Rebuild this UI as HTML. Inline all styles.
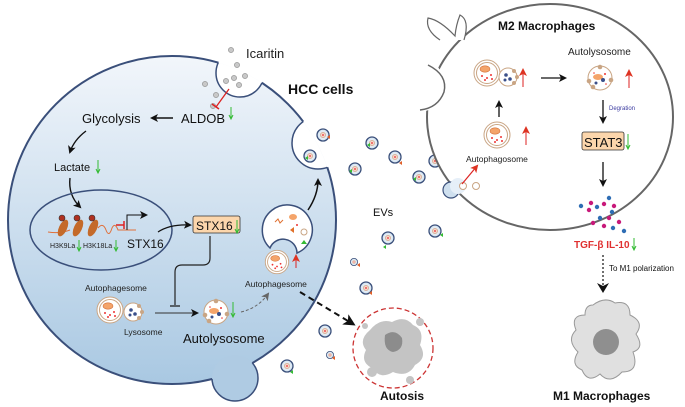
<!DOCTYPE html>
<html><head><meta charset="utf-8"><style>
html,body{margin:0;padding:0;background:#fff;}
svg{display:block;font-family:"Liberation Sans",sans-serif;}
</style></head><body>
<svg width="685" height="407" viewBox="0 0 685 407" xmlns="http://www.w3.org/2000/svg">
<defs>
<linearGradient id="cg" x1="0" y1="0" x2="0" y2="1">
<stop offset="0" stop-color="#f2f6fb"/><stop offset="1" stop-color="#a9c8e2"/></linearGradient>
<radialGradient id="evg"><stop offset="0" stop-color="#ffffff"/><stop offset="1" stop-color="#cfe0ef"/></radialGradient>
<mask id="outCell"><rect width="685" height="407" fill="#fff"/><circle cx="172" cy="220" r="164" fill="#000"/></mask>
<mask id="inCell"><circle cx="172" cy="220" r="164" fill="#fff"/></mask>
<mask id="noBuds"><rect width="685" height="407" fill="#fff"/><circle cx="240" cy="73" r="24" fill="#000"/><circle cx="318" cy="143" r="26" fill="#000"/><circle cx="235" cy="378" r="23" fill="#000"/></mask>
<marker id="ah" markerWidth="8" markerHeight="8" refX="6" refY="4" orient="auto" markerUnits="userSpaceOnUse"><path d="M0,0 L8,4 L0,8 L2,4z" fill="#111"/></marker>
<marker id="ahr" markerWidth="8" markerHeight="8" refX="6" refY="4" orient="auto" markerUnits="userSpaceOnUse"><path d="M0,0 L8,4 L0,8 L2,4z" fill="#d32"/></marker>
<marker id="ahg" markerWidth="8" markerHeight="8" refX="6" refY="4" orient="auto" markerUnits="userSpaceOnUse"><path d="M0,0 L8,4 L0,8 L2,4z" fill="#666"/></marker>
<marker id="ahb" markerWidth="12" markerHeight="12" refX="9" refY="6" orient="auto" markerUnits="userSpaceOnUse"><path d="M0,0 L12,6 L0,12 L3,6z" fill="#111"/></marker>
<g id="ev"><circle r="6" fill="url(#evg)" stroke="#3a4f7a" stroke-width="1.3"/><circle r="2.6" fill="#f5d6c8" stroke="#c97" stroke-width="0.6"/><circle r="1" fill="#e55"/></g>
<g id="aph"><circle r="13" fill="#fff" stroke="#c9a584" stroke-width="1"/><circle r="10.5" fill="none" stroke="#c9a584" stroke-width="1"/><ellipse cx="-2" cy="-4" rx="5" ry="3.2" fill="#f4a46a" stroke="#d2703a" stroke-width="0.6"/><circle cx="-5" cy="3" r="1" fill="#e33"/><circle cx="0" cy="5" r="1" fill="#e33"/><circle cx="4" cy="2" r="1" fill="#e33"/><circle cx="5" cy="6" r="1" fill="#e33"/><circle cx="-2" cy="7" r="1" fill="#e33"/></g>
<g id="lys"><circle r="9" fill="#fff" stroke="#c9a584" stroke-width="1"/><circle cx="-2" cy="-2" r="1.8" fill="#3a4f8a"/><circle cx="2" cy="2" r="1.8" fill="#3a4f8a"/><circle cx="-3" cy="3" r="1.5" fill="#3a4f8a"/><circle cx="6" cy="-6" r="2" fill="#c9a584"/><circle cx="6" cy="6" r="2" fill="#c9a584"/><circle cx="9" cy="0" r="2" fill="#c9a584"/></g>
<g id="al"><circle r="12" fill="#fff" stroke="#c9a584" stroke-width="1"/><ellipse cx="-2" cy="-1" rx="5" ry="3" fill="#f4a46a"/><circle cx="3" cy="2" r="2" fill="#3a4f8a"/><circle cx="-4" cy="5" r="1.5" fill="#3a4f8a"/><circle cx="5" cy="-4" r="1" fill="#e33"/><circle cx="-6" cy="-5" r="0.8" fill="#e33"/><circle cx="6" cy="6" r="0.8" fill="#e33"/><circle cx="0" cy="-11" r="2.3" fill="#c9a584"/><circle cx="-11" cy="3" r="2.3" fill="#c9a584"/><circle cx="11" cy="2" r="2.3" fill="#c9a584"/><circle cx="-7" cy="9" r="2.3" fill="#c9a584"/></g>
</defs>

<!-- HCC cell -->
<circle cx="172" cy="220" r="164" fill="url(#cg)"/>
<circle cx="235" cy="378" r="23" fill="#afcbe3"/>
<circle cx="240" cy="73" r="24" fill="#fff" mask="url(#inCell)"/>
<circle cx="318" cy="143" r="26" fill="#fff" mask="url(#inCell)"/>
<circle cx="172" cy="220" r="164" fill="none" stroke="#3a4f7a" stroke-width="2" mask="url(#noBuds)"/>
<circle cx="240" cy="73" r="24" fill="none" stroke="#3a4f7a" stroke-width="1.5" mask="url(#inCell)"/>
<circle cx="318" cy="143" r="26" fill="none" stroke="#3a4f7a" stroke-width="1.5" mask="url(#inCell)"/>
<circle cx="235" cy="378" r="23" fill="none" stroke="#3a4f7a" stroke-width="1.5" mask="url(#outCell)"/>

<!-- icaritin dots -->
<g fill="#c8c8c8" stroke="#888" stroke-width="0.6">
<circle cx="231" cy="50" r="2.6"/><circle cx="237" cy="65" r="2.6"/><circle cx="226" cy="81" r="2.6"/><circle cx="234" cy="78" r="2.6"/><circle cx="245" cy="76" r="2.6"/><circle cx="239" cy="85" r="2.6"/><circle cx="205" cy="84" r="2.6"/><circle cx="216" cy="95" r="2.6"/><circle cx="213" cy="106" r="2.6"/></g>
<line x1="229" y1="89" x2="216" y2="107" stroke="#d22" stroke-width="1.3"/><line x1="212" y1="104" x2="219" y2="109" stroke="#d22" stroke-width="1.5"/>

<text x="246" y="58" font-size="13" fill="#222">Icaritin</text>
<text x="288" y="94" font-size="14" font-weight="bold" fill="#111">HCC cells</text>
<text x="82" y="123" font-size="13" fill="#111">Glycolysis</text>
<text x="181" y="123" font-size="13" fill="#111">ALDOB</text>
<line x1="231" y1="107" x2="231" y2="118" stroke="#3b3" stroke-width="1"/><path d="M229,115 L231,119 L233,115" fill="none" stroke="#3b3" stroke-width="1"/>
<line x1="173" y1="118" x2="152" y2="118" stroke="#111" stroke-width="1.4" marker-end="url(#ah)"/>
<path d="M86,131 Q74,140 70,152" fill="none" stroke="#111" stroke-width="1.4" marker-end="url(#ah)"/>
<text x="54" y="171" font-size="11" fill="#111">Lactate</text>
<line x1="98" y1="160" x2="98" y2="172" stroke="#3b3" stroke-width="1"/><path d="M96,169 L98,173 L100,169" fill="none" stroke="#3b3" stroke-width="1"/>
<path d="M70,178 Q68,195 80,207" fill="none" stroke="#111" stroke-width="1.4" marker-end="url(#ah)"/>

<!-- nucleus -->
<ellipse cx="101" cy="230" rx="71" ry="40" fill="none" stroke="#3a4f7a" stroke-width="1.5"/>
<path d="M48,232 Q60,234 70,230 M98,228 Q103,222 106,230 Q109,238 112,228 Q115,222 118,230 L136,230" fill="none" stroke="#e0703a" stroke-width="1"/>
<g><ellipse cx="63" cy="228" rx="4" ry="9" transform="rotate(25 63 228)" fill="#c46a2a"/><ellipse cx="78" cy="228" rx="4" ry="9" transform="rotate(25 78 228)" fill="#c46a2a"/><ellipse cx="93" cy="228" rx="4" ry="9" transform="rotate(25 93 228)" fill="#c46a2a"/>
<circle cx="62" cy="218" r="3" fill="#b03020" stroke="#333" stroke-width="0.6"/><circle cx="77" cy="218" r="3" fill="#b03020" stroke="#333" stroke-width="0.6"/><circle cx="92" cy="218" r="3" fill="#b03020" stroke="#333" stroke-width="0.6"/></g>
<line x1="116" y1="225" x2="124" y2="225" stroke="#d22" stroke-width="1.5"/><line x1="124" y1="221" x2="124" y2="229" stroke="#d22" stroke-width="1.5"/>
<path d="M127,230 L127,215 L146,215" fill="none" stroke="#111" stroke-width="1" marker-end="url(#ah)"/>
<text x="50" y="248" font-size="7" fill="#222">H3K9La</text>
<line x1="79" y1="240" x2="79" y2="250" stroke="#3b3" stroke-width="1"/><path d="M77,247 L79,251 L81,247" fill="none" stroke="#3b3"/>
<text x="83" y="248" font-size="7" fill="#222">H3K18La</text>
<line x1="116" y1="240" x2="116" y2="250" stroke="#3b3" stroke-width="1"/><path d="M114,247 L116,251 L118,247" fill="none" stroke="#3b3"/>
<text x="127" y="248" font-size="12" fill="#111">STX16</text>
<path d="M158,232 Q170,224 190,225" fill="none" stroke="#111" stroke-width="1.3" marker-end="url(#ah)"/>
<rect x="193" y="216" width="47" height="17" rx="2" fill="#fcd6ac" stroke="#333" stroke-width="0.8"/>
<text x="196" y="230" font-size="12" fill="#111">STX16</text>
<line x1="237" y1="220" x2="237" y2="232" stroke="#3b3" stroke-width="1"/><path d="M235,229 L237,233 L239,229" fill="none" stroke="#3b3"/>
<path d="M210,236 L210,258 Q210,265 203,265 L182,265 Q175,265 175,272 L175,305" fill="none" stroke="#222" stroke-width="1.2"/>
<line x1="170" y1="306" x2="180" y2="306" stroke="#222" stroke-width="1.3"/>

<!-- left autophagosome & lysosome -->
<text x="85" y="291" font-size="8.5" fill="#222">Autophagesome</text>
<use href="#aph" x="110" y="310"/>
<use href="#lys" x="133" y="312"/>
<text x="124" y="335" font-size="8.5" fill="#222">Lysosome</text>
<line x1="155" y1="313" x2="197" y2="313" stroke="#333" stroke-width="1" marker-end="url(#ah)"/>
<use href="#al" x="216" y="312"/>
<line x1="233" y1="302" x2="233" y2="316" stroke="#3b3" stroke-width="1"/><path d="M231,313 L233,317 L235,313" fill="none" stroke="#3b3"/>
<text x="183" y="343" font-size="13" fill="#111">Autolysosome</text>
<path d="M241,312 Q258,308 268,294" fill="none" stroke="#666" stroke-width="1" stroke-dasharray="3,2" marker-end="url(#ahg)"/>

<!-- MVB horseshoe -->
<path d="M270,248 A25,25 0 1 1 297,253 A14,14 0 0 0 270,248 Z" fill="#fff" stroke="#3a4f7a" stroke-width="1.5"/>
<use href="#aph" x="0" y="0" transform="translate(277 262) scale(0.9)"/>
<ellipse cx="293" cy="217" rx="4" ry="3" fill="#f4a46a"/><path d="M275,222 l3,-3 l2,4 l3,-3" stroke="#e07030" fill="none"/><circle cx="297" cy="225" r="1" fill="#e33"/><path d="M290,230 l4,-3 l0,6z" fill="#e0702a"/><circle cx="304" cy="232" r="3" fill="#fff" stroke="#c9a584"/><path d="M301,244 l3,-4 l3,4z" fill="#3b3"/>
<line x1="296" y1="268" x2="296" y2="256" stroke="#d22" stroke-width="1" marker-end="url(#ahr)"/>
<text x="245" y="287" font-size="8.5" fill="#222">Autophagesome</text>
<path d="M308,210 Q318,195 318,180" fill="none" stroke="#111" stroke-width="1.5" marker-end="url(#ah)"/>

<!-- EVs -->
<use href="#ev" x="323" y="135"/><use href="#ev" x="310" y="156"/>
<use href="#ev" x="372" y="143"/><use href="#ev" x="395" y="157"/><use href="#ev" x="355" y="169"/><use href="#ev" x="419" y="177"/><use href="#ev" x="435" y="161"/>
<use href="#ev" x="388" y="238"/><use href="#ev" x="435" y="231"/><use href="#ev" x="366" y="288"/><use href="#ev" x="325" y="331"/><use href="#ev" x="287" y="366"/>
<g transform="translate(354,262) scale(0.6)"><use href="#ev"/></g><g transform="translate(330,355) scale(0.6)"><use href="#ev"/></g>
<g fill="#3b3"><path d="M367,145 l3,-2 l0,4z"/><path d="M349,171 l3,-2 l0,4z"/><path d="M413,179 l3,-2 l0,4z"/><path d="M383,247 l3,-2 l0,4z"/><path d="M440,235 l3,-2 l0,4z"/><path d="M305,158 l3,-2 l0,4z"/><path d="M290,372 l3,-2 l0,4z"/></g>
<g fill="#e0602a"><path d="M399,163 l3,-2 l0,4z"/><path d="M440,166 l3,-2 l0,4z"/><path d="M369,293 l3,-2 l0,4z"/><path d="M327,137 l3,-2 l0,4z"/><path d="M357,265 l3,-2 l0,4z"/><path d="M332,358 l3,-2 l0,4z"/></g>
<text x="373" y="216" font-size="11" fill="#111">EVs</text>

<!-- dashed to autosis -->
<line x1="300" y1="292" x2="353" y2="324" stroke="#111" stroke-width="2" stroke-dasharray="6,4" marker-end="url(#ahb)"/>
<circle cx="393" cy="348" r="40" fill="none" stroke="#c33" stroke-width="1.3" stroke-dasharray="5,3"/>
<path d="M370,330 Q380,318 392,322 Q405,315 413,325 Q425,330 420,345 Q428,358 415,365 Q408,378 393,372 Q380,380 372,368 Q360,362 366,350 Q358,340 370,330z" fill="#c4c4c4"/>
<path d="M385,335 Q395,328 402,338 Q404,350 393,352 Q383,350 385,335z" fill="#8c8c8c"/>
<circle cx="372" cy="372" r="5" fill="#c4c4c4"/><circle cx="410" cy="380" r="4" fill="#c4c4c4"/><circle cx="420" cy="322" r="4" fill="#c4c4c4"/><circle cx="365" cy="326" r="3" fill="#c4c4c4"/>
<text x="380" y="400" font-size="12" font-weight="bold" fill="#111">Autosis</text>

<!-- M2 macrophage -->
<ellipse cx="550" cy="117" rx="123" ry="113" fill="#fff" stroke="#666" stroke-width="2"/>
<path d="M432,62 Q445,70 444,90 Q440,110 420,112 L410,112 L410,60z" fill="#fff"/>
<path d="M428,65 Q448,75 444,92 Q438,108 420,110" fill="none" stroke="#666" stroke-width="1.5"/>
<path d="M440,40 Q425,30 428,18 Q440,20 455,36 Q456,25 460,15 Q470,20 464,40" fill="#fff" stroke="#666" stroke-width="1.2"/>
<text x="498" y="30" font-size="12" font-weight="bold" fill="#111">M2 Macrophages</text>
<use href="#aph" x="487" y="73"/><use href="#lys" x="508" y="77"/>
<line x1="523" y1="87" x2="523" y2="70" stroke="#d22" stroke-width="1" marker-end="url(#ahr)"/>
<line x1="541" y1="78" x2="565" y2="78" stroke="#111" stroke-width="1.3" marker-end="url(#ah)"/>
<text x="568" y="55" font-size="10" fill="#222">Autolysosome</text>
<use href="#al" x="600" y="78"/>
<line x1="629" y1="88" x2="629" y2="71" stroke="#d22" stroke-width="1" marker-end="url(#ahr)"/>
<line x1="603" y1="100" x2="603" y2="122" stroke="#111" stroke-width="1.3" marker-end="url(#ah)"/>
<text x="609" y="110" font-size="6" fill="#3a3aa0">Degration</text>
<rect x="582" y="132" width="42" height="18" rx="2" fill="#fcd6ac" stroke="#333" stroke-width="0.8"/>
<text x="584" y="147" font-size="13" fill="#111">STAT3</text>
<line x1="628" y1="134" x2="628" y2="148" stroke="#3b3" stroke-width="1"/><path d="M626,145 L628,149 L630,145" fill="none" stroke="#3b3"/>
<line x1="603" y1="162" x2="603" y2="185" stroke="#111" stroke-width="1.3" marker-end="url(#ah)"/>
<use href="#aph" x="497" y="135"/>
<line x1="526" y1="145" x2="526" y2="128" stroke="#d22" stroke-width="1" marker-end="url(#ahr)"/>
<line x1="499" y1="117" x2="499" y2="102" stroke="#111" stroke-width="1.3" marker-end="url(#ah)"/>
<text x="466" y="162" font-size="8.5" fill="#222">Autophagosome</text>
<circle cx="451" cy="190" r="8" fill="#cfe0ef" stroke="#3a4f7a" stroke-width="1.2"/>
<circle cx="458" cy="186" r="8" fill="#e6eff8" stroke="none"/>
<circle cx="463" cy="186" r="3.5" fill="#fff" stroke="#c9a584"/><circle cx="476" cy="186" r="3.5" fill="#fff" stroke="#c9a584"/>
<line x1="462" y1="184" x2="477" y2="166" stroke="#d22" stroke-width="1.2" marker-end="url(#ahr)"/>
<!-- cytokines -->
<g fill="#2e6db4"><circle cx="581" cy="206" r="2.2"/><circle cx="597" cy="207" r="2.2"/><circle cx="609" cy="198" r="2.2"/><circle cx="612" cy="212" r="2.2"/><circle cx="600" cy="218" r="2.2"/><circle cx="613" cy="228" r="2.2"/><circle cx="624" cy="231" r="2.2"/></g>
<g fill="#c8197a"><circle cx="591" cy="203" r="2.2"/><circle cx="604" cy="204" r="2.2"/><circle cx="589" cy="210" r="2.2"/><circle cx="614" cy="206" r="2.2"/><circle cx="609" cy="218" r="2.2"/><circle cx="593" cy="223" r="2.2"/><circle cx="604" cy="226" r="2.2"/><circle cx="619" cy="222" r="2.2"/></g>
<text x="574" y="248" font-size="10" font-weight="bold" fill="#e03030">TGF-β  IL-10</text>
<line x1="634" y1="238" x2="634" y2="249" stroke="#3b3" stroke-width="1"/><path d="M632,246 L634,250 L636,246" fill="none" stroke="#3b3"/>
<line x1="603" y1="255" x2="603" y2="287" stroke="#111" stroke-width="1.2" stroke-dasharray="2,2"/>
<path d="M597,283 L603,293 L609,283 L603,286z" fill="#111"/>
<text x="609" y="271" font-size="8" fill="#111">To M1 polarization</text>
<!-- M1 -->
<path d="M593,305 Q605,296 615,303 Q630,300 630,315 Q645,322 636,334 Q645,348 633,352 Q640,372 622,372 Q610,385 600,374 Q588,384 582,370 Q570,365 578,352 Q566,340 576,330 Q570,315 585,315 Q585,305 593,305z" fill="#e0e0e0" stroke="#999" stroke-width="1"/>
<circle cx="606" cy="342" r="13" fill="#8f8f8f"/>
<text x="553" y="400" font-size="12" font-weight="bold" fill="#111">M1 Macrophages</text>
</svg>
</body></html>
